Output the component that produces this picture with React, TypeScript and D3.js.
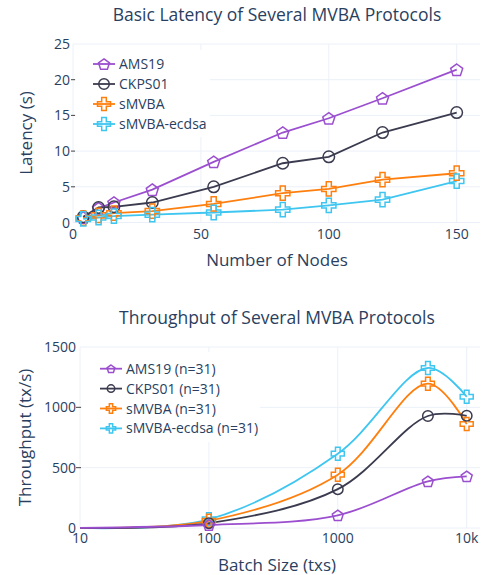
import React, { useRef, useEffect } from 'react'
import * as d3 from 'd3'

// ---- latency chart data ----
const nodes = [4, 10, 16, 31, 55, 82, 100, 121, 150]
const latAMS19 = [0.7, 2.0, 2.8, 4.6, 8.5, 12.6, 14.6, 17.4, 21.4]
const latCKPS01 = [0.8, 2.1, 2.2, 2.8, 5.0, 8.3, 9.2, 12.6, 15.4]
const latSMVBA = [0.6, 1.0, 1.3, 1.6, 2.6, 4.1, 4.7, 6.0, 6.9]
const latEcdsa = [0.5, 0.7, 0.9, 1.1, 1.4, 1.8, 2.4, 3.2, 5.8]
const latXTicks = [0, 50, 100, 150]
const latYTicks = [0, 5, 10, 15, 20, 25]

// ---- throughput chart data ----
const batchSizes = [10, 100, 1000, 5000, 10000]
const tpAMS19 = [1, 25, 105, 387, 428]
const tpCKPS01 = [1, 40, 322, 928, 930]
const tpSMVBA = [1, 60, 442, 1196, 862]
const tpEcdsa = [1, 72, 616, 1326, 1088]
const tpXTicks = [10, 100, 1000, 10000]
const tpXLabels = ['10', '100', '1000', '10k']
const tpYTicks = [0, 500, 1000, 1500]

const seriesNames = ['AMS19', 'CKPS01', 'sMVBA', 'sMVBA-ecdsa']
const colors = ['#9b4fcf', '#3b3b4f', '#ff7f0e', '#3ec6f0']
const symbols = ['pentagon', 'circle', 'cross', 'cross']

const FONT = '"Open Sans", verdana, arial, sans-serif'
const TXT = '#2a3f5f'
const GRID = '#ebf0f8'

// draws an open marker centred at 0,0
function drawMarker(g: any, kind: string, color: string, s: number) {
  if (kind === 'circle') {
    g.append('circle').attr('r', s * 0.5).attr('fill', 'none')
      .attr('stroke', color).attr('stroke-width', 1.5)
  } else if (kind === 'pentagon') {
    const r = s * 0.55
    const pts = d3.range(5).map(i => {
      const a = -Math.PI / 2 + (i * 2 * Math.PI) / 5
      return [r * Math.cos(a), r * Math.sin(a) + r * 0.1]
    })
    g.append('path').attr('d', 'M' + pts.join('L') + 'Z').attr('fill', 'none')
      .attr('stroke', color).attr('stroke-width', 1.5)
  } else {
    const h = s * 0.62, w = s * 0.22
    const d = `M${-w},${-h}H${w}V${-w}H${h}V${w}H${w}V${h}H${-w}V${w}H${-h}V${-w}H${-w}Z`
    g.append('path').attr('d', d).attr('fill', 'none')
      .attr('stroke', color).attr('stroke-width', 1.5)
  }
}

export default function App() {
  const svgEl = useRef<SVGSVGElement>(null)

  useEffect(() => {
    if (!svgEl.current) return
    const svg = d3.select(svgEl.current)
    svg.selectAll('*').remove()

    // ================= top: latency =================
    const x1 = d3.scaleLinear().domain([0, 150]).range([73, 456.7])
    const y1 = d3.scaleLinear().domain([0, 25]).range([222.5, 44])
    const top = svg.append('g')

    top.selectAll('.hg').data(latYTicks).enter().append('line')
      .attr('x1', 73).attr('x2', 480).attr('y1', d => y1(d)).attr('y2', d => y1(d))
      .attr('stroke', GRID).attr('stroke-width', 1)
    top.selectAll('.vg').data(latXTicks).enter().append('line')
      .attr('x1', d => x1(d)).attr('x2', d => x1(d)).attr('y1', 44).attr('y2', 222.5)
      .attr('stroke', GRID).attr('stroke-width', 1)

    // legend background hides gridlines behind it
    top.append('rect').attr('x', 76).attr('y', 50).attr('width', 134).attr('height', 87).attr('fill', '#fff')

    top.selectAll('.yt').data(latYTicks).enter().append('text')
      .attr('x', 70).attr('y', d => y1(d) + 5).attr('text-anchor', 'end')
      .text(d => d)
    top.selectAll('.ytk').data(latYTicks.slice(1, -1)).enter().append('line')
      .attr('x1', 71).attr('x2', 75).attr('y1', d => y1(d)).attr('y2', d => y1(d))
      .attr('stroke', '#444').attr('stroke-width', 1)
    top.selectAll('.xt').data(latXTicks).enter().append('text')
      .attr('x', d => x1(d)).attr('y', 239).attr('text-anchor', 'middle')
      .text(d => d)

    const latSeries = [latAMS19, latCKPS01, latSMVBA, latEcdsa]
    const line1 = d3.line<number>().x((_, i) => x1(nodes[i])).y(d => y1(d))
    latSeries.forEach((vals, k) => {
      top.append('path').attr('d', line1(vals)).attr('fill', 'none')
        .attr('stroke', colors[k]).attr('stroke-width', 1.8)
    })
    latSeries.forEach((vals, k) => {
      vals.forEach((v, i) => {
        const g = top.append('g').attr('transform', `translate(${x1(nodes[i])},${y1(v)})`)
        drawMarker(g, symbols[k], colors[k], 11.5)
      })
    })

    seriesNames.forEach((name, k) => {
      const cy = 64 + k * 20
      top.append('line').attr('x1', 93).attr('x2', 115).attr('y1', cy).attr('y2', cy)
        .attr('stroke', colors[k]).attr('stroke-width', 1.8)
      drawMarker(top.append('g').attr('transform', `translate(104,${cy})`), symbols[k], colors[k], 10.5)
      top.append('text').attr('x', 119).attr('y', cy + 5).text(name)
    })

    top.append('text').attr('x', 277).attr('y', 20.5).attr('text-anchor', 'middle')
      .attr('font-size', 17.5).text('Basic Latency of Several MVBA Protocols')
    top.append('text').attr('x', 277).attr('y', 265.5).attr('text-anchor', 'middle')
      .attr('font-size', 17).text('Number of Nodes')
    top.append('text').attr('transform', `translate(32,133) rotate(-90)`).attr('text-anchor', 'middle')
      .attr('font-size', 17).text('Latency (s)')

    // ================= bottom: throughput =================
    const x2 = d3.scaleLog().domain([10, 10000]).range([80, 466.7])
    const y2 = d3.scaleLinear().domain([0, 1500]).range([528, 347])
    const bot = svg.append('g')

    bot.selectAll('.hg').data(tpYTicks).enter().append('line')
      .attr('x1', 80).attr('x2', 480).attr('y1', d => y2(d)).attr('y2', d => y2(d))
      .attr('stroke', GRID).attr('stroke-width', 1)
    bot.selectAll('.vg').data(tpXTicks).enter().append('line')
      .attr('x1', d => x2(d)).attr('x2', d => x2(d)).attr('y1', 347).attr('y2', 528)
      .attr('stroke', GRID).attr('stroke-width', 1)

    bot.append('rect').attr('x', 82).attr('y', 352).attr('width', 178).attr('height', 90).attr('fill', '#fff')

    bot.selectAll('.yt').data(tpYTicks).enter().append('text')
      .attr('x', 76).attr('y', d => y2(d) + 5).attr('text-anchor', 'end')
      .text(d => d)
    bot.selectAll('.ytk').data(tpYTicks.slice(1, -1)).enter().append('line')
      .attr('x1', 76).attr('x2', 81).attr('y1', d => y2(d)).attr('y2', d => y2(d))
      .attr('stroke', '#444').attr('stroke-width', 1)
    bot.selectAll('.xt').data(tpXTicks).enter().append('text')
      .attr('x', d => x2(d)).attr('y', 543).attr('text-anchor', 'middle')
      .text((_, i) => tpXLabels[i])

    const tpSeries = [tpAMS19, tpCKPS01, tpSMVBA, tpEcdsa]
    const line2 = d3.line<number>().x((_, i) => x2(batchSizes[i])).y(d => y2(d))
      .curve(d3.curveCatmullRom.alpha(0.5))
    // drawn back to front like the original
    ;[3, 2, 1, 0].forEach(k => {
      bot.append('path').attr('d', line2(tpSeries[k])).attr('fill', 'none')
        .attr('stroke', colors[k]).attr('stroke-width', 1.8)
    })
    ;[3, 2, 1, 0].forEach(k => {
      tpSeries[k].forEach((v, i) => {
        if (i === 0) return // point at 10 sits on the axis, no marker visible
        const g = bot.append('g').attr('transform', `translate(${x2(batchSizes[i])},${y2(v)})`)
        drawMarker(g, symbols[k], colors[k], 10.5)
      })
    })

    seriesNames.forEach((name, k) => {
      const cy = 368.7 + k * 19.9
      bot.append('line').attr('x1', 100).attr('x2', 122).attr('y1', cy).attr('y2', cy)
        .attr('stroke', colors[k]).attr('stroke-width', 1.8)
      drawMarker(bot.append('g').attr('transform', `translate(111,${cy})`), symbols[k], colors[k], 7.5)
      bot.append('text').attr('x', 126).attr('y', cy + 5).text(`${name} (n=31)`)
    })

    bot.append('text').attr('x', 277).attr('y', 324).attr('text-anchor', 'middle')
      .attr('font-size', 17.5).text('Throughput of Several MVBA Protocols')
    bot.append('text').attr('x', 277).attr('y', 571).attr('text-anchor', 'middle')
      .attr('font-size', 17).text('Batch Size (txs)')
    bot.append('text').attr('transform', `translate(31,437.5) rotate(-90)`).attr('text-anchor', 'middle')
      .attr('font-size', 17).text('Throughput (tx/s)')
  }, [])

  return (
    <svg
      ref={svgEl}
      width={486}
      height={575}
      style={{ position: 'absolute', left: 0, top: 0, background: '#fff' }}
      fontFamily={FONT}
      fontSize={14}
      fill={TXT}
    />
  )
}
